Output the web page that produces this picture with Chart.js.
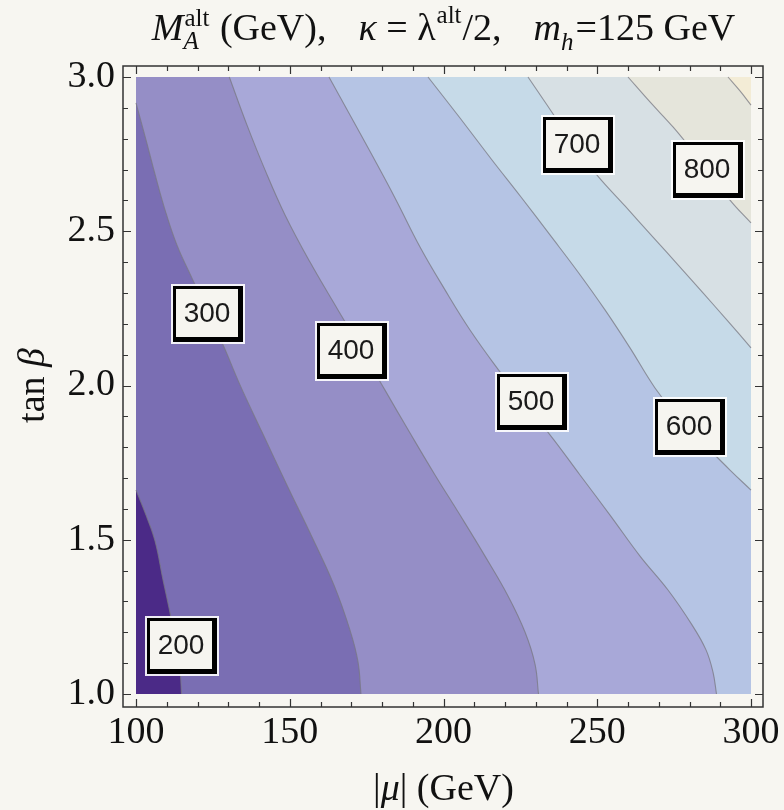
<!DOCTYPE html>
<html>
<head>
<meta charset="utf-8">
<script src="https://cdn.jsdelivr.net/npm/chart.js@4.4.1/dist/chart.umd.min.js"></script>
<style>
  html, body { margin: 0; padding: 0; background: #f7f6f1; }
  #wrap { width: 784px; height: 810px; }
</style>
</head>
<body>
<div id="wrap"><canvas id="myChart" width="784" height="810"></canvas></div>
<script>
// axis ranges: |mu| (GeV) and tan beta
const muRange = [100, 300];
const tbRange = [1, 3];
const muTicks = [100, 150, 200, 250, 300];
const tbTicks = [1.0, 1.5, 2.0, 2.5, 3.0];
const muMinor = 10;
const tbMinor = 0.1;

// contour levels of M_A (GeV)
const levels = [200, 300, 400, 500, 600, 700, 800, 900];

// contour lines, [mu, tanb], from top/left edge to bottom/right edge
const c200 = [[100, 1.661], [103.25, 1.580], [106.18, 1.496], [108.78, 1.370], [111.06, 1.263],
  [113.01, 1.159], [114.31, 1.078], [114.80, 1.0]];
const c300 = [[100, 2.916], [103.25, 2.796], [106.50, 2.673], [109.76, 2.559], [113.33, 2.455],
  [118.21, 2.348], [123.41, 2.238], [128.62, 2.125], [133.82, 2.002], [140.98, 1.849],
  [149.11, 1.677], [157.24, 1.509], [164.39, 1.353], [169.59, 1.207], [172.20, 1.104], [173.17, 1.0]];
const c400 = [[130.34, 3.0], [136.10, 2.844], [141.95, 2.699], [148.46, 2.553], [156.59, 2.400],
  [165.69, 2.245], [173.50, 2.115], [180.98, 1.985], [189.11, 1.846], [197.24, 1.710],
  [205.37, 1.580], [213.50, 1.447], [220.98, 1.318], [226.50, 1.201], [229.76, 1.097], [230.89, 1.0]];
const c500 = [[162.76, 3.0], [169.59, 2.877], [176.75, 2.747], [184.23, 2.608], [192.36, 2.449],
  [200.49, 2.310], [208.62, 2.180], [218.37, 2.044], [226.50, 1.937], [234.63, 1.840],
  [244.39, 1.710], [254.15, 1.580], [263.90, 1.447], [273.01, 1.337], [280.81, 1.224],
  [285.37, 1.143], [287.64, 1.071], [288.78, 1.0]];
const c600 = [[194.96, 3.0], [205.37, 2.867], [215.77, 2.731], [225.20, 2.611], [234.63, 2.488],
  [243.74, 2.368], [252.52, 2.245], [260.65, 2.122], [268.78, 1.992], [276.91, 1.888],
  [285.04, 1.807], [293.17, 1.726], [300, 1.661]];
const c700 = [[227.48, 3.0], [233.01, 2.919], [238.54, 2.838], [244.39, 2.757], [249.92, 2.682],
  [259.02, 2.582], [268.13, 2.481], [276.26, 2.391], [284.39, 2.300], [292.20, 2.212], [300, 2.122]];
const c800 = [[260.0, 3.0], [267.15, 2.919], [274.63, 2.838], [280.81, 2.763], [287.32, 2.682],
  [293.17, 2.601], [300, 2.527]];
const c900 = [[292.52, 3.0], [296.42, 2.955], [300, 2.909]];
const contours = [c200, c300, c400, c500, c600, c700, c800, c900];

// band colours, lowest band first
const bandColors = ['#4b2a87', '#7a6eb3', '#958ec6', '#a8a8d8', '#b5c4e4',
  '#c6dae8', '#d7e0e4', '#e5e5db', '#f3ecd6'];

// contour label positions [mu, tanb]
const labelLevels = [200, 300, 400, 500, 600, 700, 800];
const labelAt = [[115.1, 1.154], [123.4, 2.232], [170.4, 2.113], [228.9, 1.947],
  [280.3, 1.865], [243.7, 2.778], [286.0, 2.699]];

const serif = '"Liberation Serif", "Times New Roman", serif';
const toPts = arr => arr.map(p => ({ x: p[0], y: p[1] }));
// plot corners, each doubled so the smoothed outline keeps sharp corners
const corners = [[muRange[1], tbRange[0]], [muRange[1], tbRange[1]], [muRange[0], tbRange[1]]];
const sharp = pts => pts.flatMap(p => [p, p]);

const datasets = [];
datasets.push({ data: toPts(sharp([[muRange[0], tbRange[0]]].concat(corners))),
  backgroundColor: bandColors[0], fill: 'shape', borderWidth: 0, order: 100 });
contours.forEach((c, i) => {
  const outline = c.concat([c[c.length - 1]], sharp(corners));
  datasets.push({ data: toPts(outline), backgroundColor: bandColors[i + 1],
    fill: 'shape', borderWidth: 0, order: 99 - i });
});
contours.forEach(c => {
  datasets.push({ data: toPts(c), borderColor: 'rgba(120,120,130,0.75)', borderWidth: 1.1,
    fill: false, order: 0 });
});

function fnt(sz, it) { return (it ? 'italic ' : '') + sz + 'px ' + serif; }

// rich text with sub/superscripts, centred on cx
function drawRich(ctx, parts, cx, base, size) {
  const small = Math.round(size * 0.66);
  let total = 0;
  const widths = parts.map(p => {
    let w = p.gap || 0;
    if (p.t) { ctx.font = fnt(size, p.i); w = ctx.measureText(p.t).width; }
    if (p.sub || p.sup) {
      ctx.font = fnt(small, true);
      const w1 = p.sub ? ctx.measureText(p.sub).width : 0;
      ctx.font = fnt(small, false);
      const w2 = p.sup ? ctx.measureText(p.sup).width : 0;
      w = Math.max(w1, w2) + 2;
    }
    total += w;
    return w;
  });
  let xx = cx - total / 2;
  ctx.textAlign = 'left';
  ctx.textBaseline = 'alphabetic';
  parts.forEach((p, k) => {
    if (p.t) { ctx.font = fnt(size, p.i); ctx.fillText(p.t, xx, base); }
    if (p.sub) { ctx.font = fnt(small, true); ctx.fillText(p.sub, xx, base + (p.subDy || 9)); }
    if (p.sup) { ctx.font = fnt(small, false); ctx.fillText(p.sup, xx + 1, base - (p.supDy || 14)); }
    xx += widths[k];
  });
}

const titleParts = [{ t: 'M', i: true }, { sub: 'A', sup: 'alt' }, { t: ' (GeV),' }, { gap: 32 },
  { t: 'κ', i: true }, { t: ' = λ' }, { sup: 'alt', supDy: 17 }, { t: '/2,' }, { gap: 32 },
  { t: 'm', i: true }, { sub: 'h', subDy: 10 }, { t: '=125 GeV' }];
const xTitleParts = [{ t: '|' }, { t: 'μ', i: true }, { t: '| (GeV)' }];
const yTitleParts = [{ t: 'tan ' }, { t: 'β', i: true }];

const decorPlugin = {
  id: 'decor',
  afterDatasetsDraw(chart) {
    const { ctx, scales: { x, y } } = chart;
    ctx.save();
    labelAt.forEach((p, i) => {
      const w = 70, h = 56;
      const l = Math.round(x.getPixelForValue(p[0]) - w / 2);
      const t = Math.round(y.getPixelForValue(p[1]) - h / 2);
      ctx.fillStyle = 'rgba(255,255,255,0.9)';
      ctx.fillRect(l - 2, t - 2, w + 4, h + 4);
      ctx.fillStyle = '#000';
      ctx.fillRect(l, t, w, h);
      ctx.fillStyle = '#f6f5f0';
      ctx.fillRect(l + 3, t + 3, w - 8, h - 8);
      ctx.fillStyle = '#1a1a1a';
      ctx.font = '28px "Liberation Sans", Arial, sans-serif';
      ctx.textAlign = 'center';
      ctx.textBaseline = 'middle';
      ctx.fillText(String(labelLevels[i]), l + 3 + (w - 8) / 2, t + 3 + (h - 8) / 2 + 1);
    });
    ctx.restore();
  },
  afterDraw(chart) {
    const { ctx, chartArea: a, scales: { x, y } } = chart;
    ctx.save();
    ctx.strokeStyle = '#333';
    ctx.lineWidth = 1.5;
    ctx.strokeRect(a.left, a.top, a.right - a.left, a.bottom - a.top);
    ctx.lineWidth = 1.2;
    ctx.beginPath();
    for (let v = muRange[0]; v <= muRange[1] + 1e-6; v += muMinor) {
      const px = Math.round(x.getPixelForValue(v)) + 0.5;
      const len = muTicks.includes(Math.round(v)) ? 8 : 5;
      ctx.moveTo(px, a.bottom); ctx.lineTo(px, a.bottom - len);
      ctx.moveTo(px, a.top); ctx.lineTo(px, a.top + len);
    }
    for (let k = 0; k <= Math.round((tbRange[1] - tbRange[0]) / tbMinor); k++) {
      const v = Math.round((tbRange[0] + k * tbMinor) * 10) / 10;
      const py = Math.round(y.getPixelForValue(v)) + 0.5;
      const len = tbTicks.includes(v) ? 8 : 5;
      ctx.moveTo(a.left, py); ctx.lineTo(a.left + len, py);
      ctx.moveTo(a.right, py); ctx.lineTo(a.right - len, py);
    }
    ctx.stroke();

    ctx.fillStyle = '#111';
    const cx = x.getPixelForValue((muRange[0] + muRange[1]) / 2);
    const cy = y.getPixelForValue((tbRange[0] + tbRange[1]) / 2);
    drawRich(ctx, titleParts, cx, 40, 38);
    drawRich(ctx, xTitleParts, cx, 800, 38);
    ctx.translate(44, cy);
    ctx.rotate(-Math.PI / 2);
    drawRich(ctx, yTitleParts, 0, 0, 38);
    ctx.restore();
  }
};

Chart.defaults.font.family = serif;
Chart.defaults.color = '#111';

new Chart(document.getElementById('myChart'), {
  type: 'line',
  data: { datasets },
  options: {
    responsive: false,
    animation: false,
    layout: { padding: { top: 66, right: 21, left: 0, bottom: 0 } },
    elements: { point: { radius: 0 }, line: { tension: 0.4 } },
    plugins: { legend: { display: false }, tooltip: { enabled: false }, title: { display: false } },
    scales: {
      x: {
        type: 'linear',
        min: muRange[0] - 13 / 3.075,
        max: muRange[1] + 12 / 3.075,
        grid: { display: false, drawTicks: false },
        border: { display: false },
        afterBuildTicks: s => { s.ticks = muTicks.map(v => ({ value: v })); },
        afterFit: s => { s.height = 103; },
        ticks: { font: { size: 38 }, padding: 3, maxRotation: 0, autoSkip: false,
          callback: v => String(v) }
      },
      y: {
        type: 'linear',
        min: tbRange[0] - 13 / 308.5,
        max: tbRange[1] + 11 / 308.5,
        grid: { display: false, drawTicks: false },
        border: { display: false },
        afterBuildTicks: s => { s.ticks = tbTicks.map(v => ({ value: v })); },
        afterFit: s => { s.width = 123; },
        ticks: { font: { size: 38 }, padding: 8, autoSkip: false,
          callback: v => Number(v).toFixed(1) }
      }
    }
  },
  plugins: [decorPlugin]
});
</script>
</body>
</html>
